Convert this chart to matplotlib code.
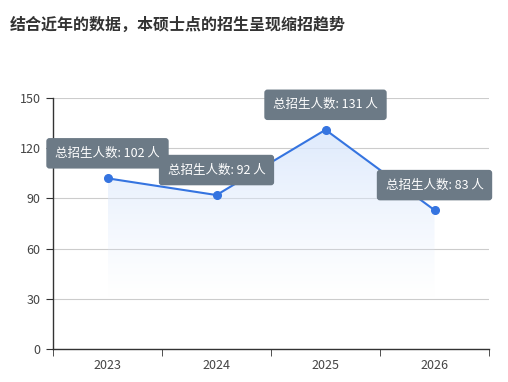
import numpy as np
import matplotlib.pyplot as plt
from matplotlib.patches import Polygon

plt.rcParams['font.family'] = ['Noto Sans CJK SC', 'DejaVu Sans']

# 数据
years = ['2023', '2024', '2025', '2026']
enroll = [102, 92, 131, 83]
title = '结合近年的数据，本硕士点的招生呈现缩招趋势'

fig = plt.figure(figsize=(5.08, 3.82), dpi=100)
ax = fig.add_axes([53 / 508, 33 / 382, 436 / 508, 251 / 382])

x = np.arange(len(years))
line_color = '#3574e0'

# 折线 + 点
ax.plot(x, enroll, color=line_color, linewidth=1.5, marker='o', markersize=5.5, zorder=4)

# 渐变填充
grad = np.linspace(0, 1, 256)
rgba = np.zeros((256, 1, 4))
rgba[:, 0, 0] = 0.86
rgba[:, 0, 1] = 0.91
rgba[:, 0, 2] = 0.99
rgba[:, 0, 3] = grad ** 1.2 * 0.9
img = ax.imshow(rgba, aspect='auto', origin='lower',
                extent=[x[0], x[-1], 30, max(enroll)], zorder=1)
poly = Polygon(list(zip(x, enroll)) + [(x[-1], 30), (x[0], 30)],
               closed=True, facecolor='none', edgecolor='none')
ax.add_patch(poly)
img.set_clip_path(poly)

# 标签框
for xi, v in zip(x, enroll):
    ax.annotate(f'总招生人数: {v} 人', (xi, v), xytext=(0, 18),
                textcoords='offset points', ha='center', va='center',
                color='white', fontsize=9, fontweight='medium', zorder=5,
                bbox=dict(boxstyle='round,pad=0.7,rounding_size=0.25',
                          fc='#6c7a86', ec='none'))

ax.set_xlim(-0.5, len(years) - 0.5)
ax.set_ylim(0, 150)
ax.set_yticks([0, 30, 60, 90, 120, 150])
ax.set_xticks(x)
ax.set_xticklabels(years)
ax.set_xticks(np.arange(-0.5, len(years)), minor=True)
ax.tick_params(axis='x', which='major', length=0, pad=7)
ax.tick_params(axis='x', which='minor', length=5, color='#333333')
ax.tick_params(axis='y', length=5, color='#333333', pad=4)
ax.tick_params(labelsize=9, labelcolor='#444444')

ax.grid(axis='y', color='#cccccc', linewidth=0.8, zorder=0)
ax.set_axisbelow(True)
for side in ['top', 'right']:
    ax.spines[side].set_visible(False)
for side in ['left', 'bottom']:
    ax.spines[side].set_color('#333333')
    ax.spines[side].set_linewidth(1)

fig.text(10 / 508, 1 - 25 / 382, title, fontsize=11.5, fontweight='bold',
         color='#333333', ha='left', va='center')

fig.savefig('out.png', dpi=100)
